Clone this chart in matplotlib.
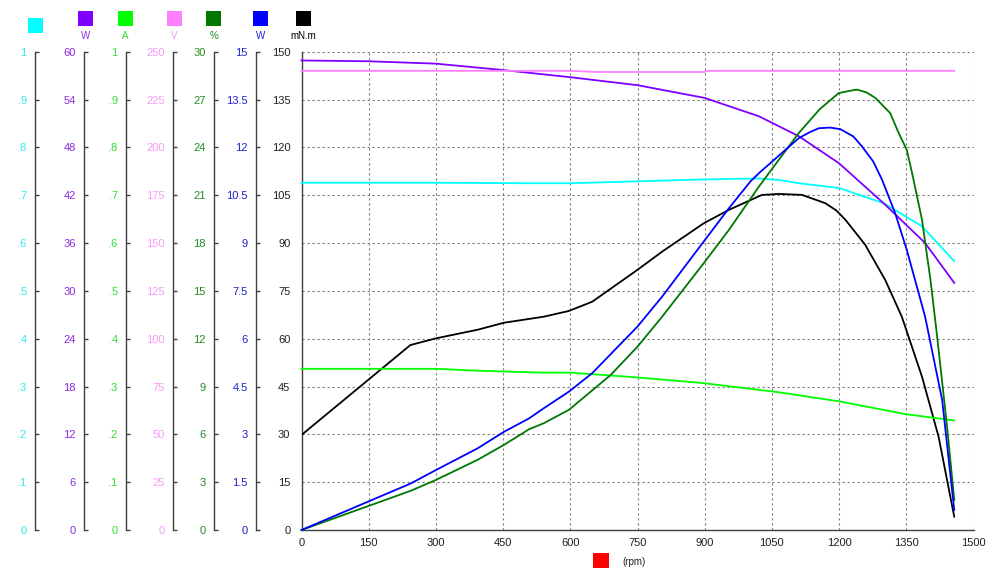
import matplotlib
matplotlib.use("Agg")
import matplotlib.pyplot as plt
from matplotlib.patches import Rectangle
from matplotlib.ticker import FixedLocator, FixedFormatter

plt.rcParams['font.family'] = ['Liberation Sans Narrow', 'Liberation Sans', 'DejaVu Sans']

# ---------------- data ----------------
x_ticks = [0, 150, 300, 450, 600, 750, 900, 1050, 1200, 1350, 1500]

# cyan (unlabelled, 0..1)
cyan_rpm = [0, 300, 500, 600, 750, 900, 1020, 1065, 1110, 1200, 1300, 1385, 1457]
cyan_val = [0.726, 0.726, 0.725, 0.725, 0.729, 0.733, 0.735, 0.732, 0.725, 0.715, 0.683, 0.635, 0.562]

# purple W (0..60)
pw_rpm = [0, 150, 300, 450, 600, 750, 900, 1021, 1110, 1200, 1303, 1392, 1457]
pw_val = [58.9, 58.8, 58.5, 57.7, 56.8, 55.8, 54.2, 51.9, 49.4, 46.0, 40.8, 36.0, 31.0]

# current A (0..1)
a_rpm = [0, 300, 393, 541, 600, 750, 898, 1065, 1200, 1350, 1457]
a_val = [0.337, 0.337, 0.333, 0.329, 0.329, 0.319, 0.307, 0.288, 0.269, 0.242, 0.229]

# voltage V (0..250)
v_rpm = [0, 600, 660, 900, 905, 1457]
v_val = [240.0, 240.0, 239.4, 239.4, 240.0, 240.0]

# efficiency % (0..30)
eff_rpm = [0, 244, 300, 393, 452, 508, 541, 597, 690, 750, 805, 898, 954, 1021, 1110, 1157,
           1199, 1224, 1240, 1261, 1281, 1314, 1333, 1351, 1363, 1385, 1404, 1418, 1441, 1457]
eff_val = [0, 2.46, 3.14, 4.4, 5.34, 6.32, 6.7, 7.54, 9.72, 11.5, 13.38, 16.74, 18.82, 21.54, 24.9, 26.4,
           27.4, 27.55, 27.62, 27.45, 27.1, 26.15, 24.9, 23.85, 22.38, 19.46, 15.68, 12.34, 6.48, 1.88]

# output power W (0..15)
pout_rpm = [0, 244, 300, 393, 452, 508, 541, 597, 649, 750, 805, 898, 954, 1002, 1021, 1110, 1135,
            1155, 1180, 1203, 1232, 1251, 1276, 1296, 1325, 1351, 1392, 1430, 1457]
pout_val = [0, 1.46, 1.88, 2.56, 3.08, 3.5, 3.82, 4.34, 4.92, 6.38, 7.32, 9.05, 10.09, 10.93, 11.19, 12.29, 12.48,
            12.6, 12.62, 12.57, 12.34, 12.03, 11.56, 10.98, 9.94, 8.79, 6.69, 4.08, 0.63]

# torque mN.m (0..150)
tq_rpm = [0, 243, 300, 393, 452, 541, 597, 649, 750, 805, 898, 954, 1028, 1045, 1065, 1117,
          1169, 1194, 1214, 1258, 1303, 1340, 1385, 1422, 1457]
tq_val = [29.8, 58.0, 60.1, 62.8, 65.0, 66.9, 68.7, 71.6, 81.6, 87.3, 96.2, 100.4, 105.1, 105.2, 105.4, 105.1,
          102.5, 100.2, 97.3, 89.5, 78.4, 66.9, 48.1, 29.3, 4.2]

cyan_ticks = [0, .1, .2, .3, .4, .5, .6, .7, .8, .9, 1]
cyan_labels = ['0', '.1', '.2', '.3', '.4', '.5', '.6', '.7', '.8', '.9', '1']
pw_ticks = [0, 6, 12, 18, 24, 30, 36, 42, 48, 54, 60]
a_ticks = cyan_ticks
a_labels = cyan_labels
v_ticks = [0, 25, 50, 75, 100, 125, 150, 175, 200, 225, 250]
eff_ticks = [0, 3, 6, 9, 12, 15, 18, 21, 24, 27, 30]
pout_ticks = [0, 1.5, 3, 4.5, 6, 7.5, 9, 10.5, 12, 13.5, 15]
pout_labels = ['0', '1.5', '3', '4.5', '6', '7.5', '9', '10.5', '12', '13.5', '15']
tq_ticks = [0, 15, 30, 45, 60, 75, 90, 105, 120, 135, 150]

legend_labels = ['', 'W', 'A', 'V', '%', 'W', 'mN.m']
x_label = '(rpm)'

# ---------------- layout ----------------
W, H = 1000, 575
fig = plt.figure(figsize=(W / 100, H / 100), dpi=100)
fig.patch.set_facecolor('white')

L, R, T, B = 301.5, 973.5, 51.7, 530.0
rect = [L / W, 1 - B / H, (R - L) / W, (B - T) / H]

main = fig.add_axes(rect)
main.set_xlim(0, 1500)
main.set_ylim(0, 150)
main.set_xticks(x_ticks)
main.set_yticks(tq_ticks)
main.grid(True, color='#7a7a7a', linestyle=(0, (2, 2.5)), linewidth=0.8)
main.set_axisbelow(True)
for s in ['top', 'right']:
    main.spines[s].set_visible(False)
for s in ['left', 'bottom']:
    main.spines[s].set_color('#404040')
    main.spines[s].set_linewidth(1.0)
main.tick_params(axis='both', length=0, labelsize=8, colors='#202020')
main.tick_params(axis='y', pad=8)
main.tick_params(axis='x', pad=6)

C_CYAN = '#00ffff'
C_PURP = '#8000ff'
C_A = '#00ff00'
C_V = '#ff80ff'
C_EFF = '#007800'
C_POUT = '#0000ff'
C_TQ = '#000000'

L_CYAN = '#33e8f0'
L_PURP = '#8a2be2'
L_A = '#33dd33'
L_V = '#f59af5'
L_EFF = '#228b22'
L_POUT = '#2020cc'

extra = [
    (35, (0, 1), cyan_ticks, cyan_labels, L_CYAN, cyan_rpm, cyan_val, C_CYAN),
    (84, (0, 60), pw_ticks, [str(t) for t in pw_ticks], L_PURP, pw_rpm, pw_val, C_PURP),
    (126, (0, 1), a_ticks, a_labels, L_A, a_rpm, a_val, C_A),
    (173, (0, 250), v_ticks, [str(t) for t in v_ticks], L_V, v_rpm, v_val, C_V),
    (214, (0, 30), eff_ticks, [str(t) for t in eff_ticks], L_EFF, eff_rpm, eff_val, C_EFF),
    (256, (0, 15), pout_ticks, pout_labels, L_POUT, pout_rpm, pout_val, C_POUT),
]

for xpix, ylim, ticks, labels, lcol, rpm, vals, col in extra:
    ax = fig.add_axes(rect, sharex=main)
    ax.patch.set_visible(False)
    ax.set_ylim(*ylim)
    for s in ['top', 'right', 'bottom']:
        ax.spines[s].set_visible(False)
    ax.spines['left'].set_position(('axes', (xpix - L) / (R - L)))
    ax.spines['left'].set_color('#404040')
    ax.spines['left'].set_linewidth(1.0)
    ax.yaxis.set_major_locator(FixedLocator(ticks))
    ax.yaxis.set_major_formatter(FixedFormatter(labels))
    ax.tick_params(axis='y', direction='in', length=3, width=1, color='#404040',
                   labelsize=8, labelcolor=lcol, pad=6)
    ax.tick_params(axis='x', bottom=False, labelbottom=False)
    ax.plot(rpm, vals, color=col, linewidth=1.3, clip_on=False)

main.plot(tq_rpm, tq_val, color=C_TQ, linewidth=1.3, zorder=3)

# legend squares at top
sq = [(28, 18, C_CYAN), (78, 11, C_PURP), (118, 11, C_A), (167, 11, C_V),
      (206, 11, C_EFF), (253, 11, C_POUT), (296, 11, C_TQ)]
lab_cols = [L_CYAN, L_PURP, L_A, L_V, L_EFF, L_POUT, '#000000']
for (x0, y0, c), lab, lc in zip(sq, legend_labels, lab_cols):
    fig.patches.append(Rectangle((x0 / W, 1 - (y0 + 15) / H), 15 / W, 15 / H,
                                 transform=fig.transFigure, facecolor=c, edgecolor='none'))
    if lab:
        fig.text((x0 + 7.5) / W, 1 - 36 / H, lab, color=lc, fontsize=7,
                 ha='center', va='center')

# x axis legend
fig.patches.append(Rectangle((593 / W, 1 - 568 / H), 16 / W, 15 / H,
                             transform=fig.transFigure, facecolor='#ff0000', edgecolor='none'))
fig.text(622 / W, 1 - 562 / H, x_label, fontsize=7, color='#202020', ha='left', va='center')

fig.savefig('out.png', dpi=100, facecolor='white')
